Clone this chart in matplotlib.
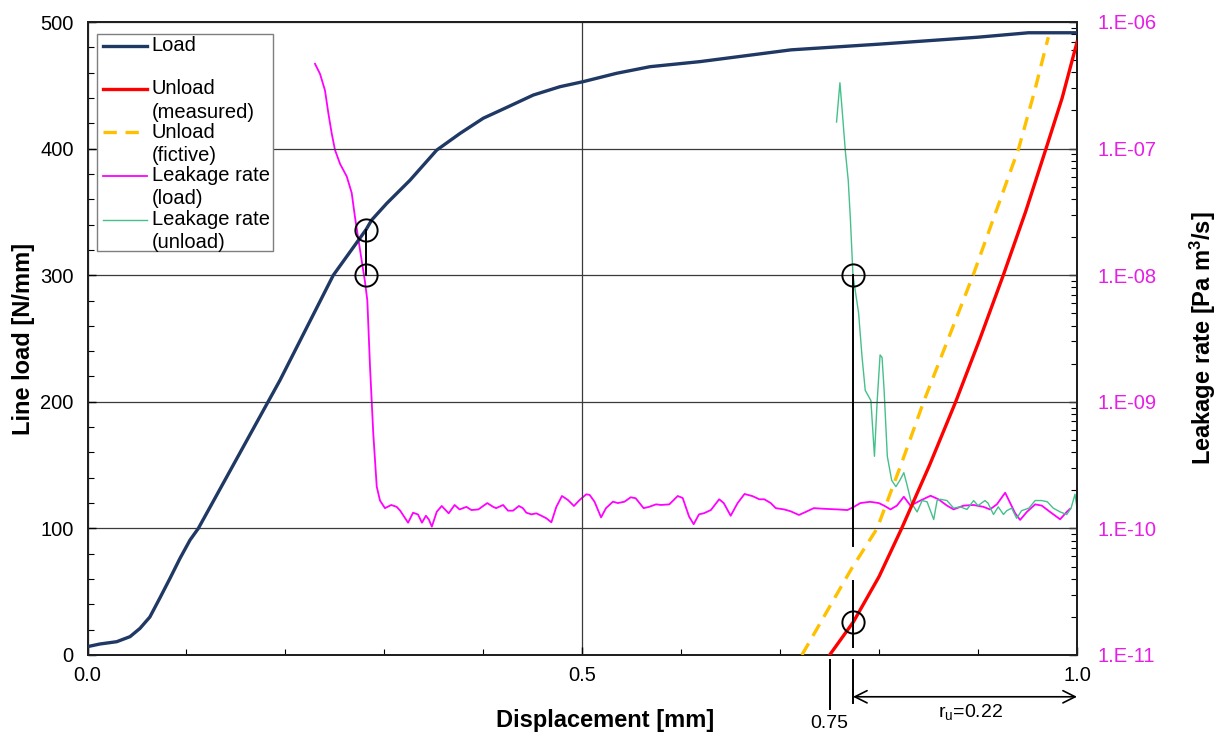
import numpy as np
import matplotlib
matplotlib.use("Agg")
import matplotlib.pyplot as plt
from matplotlib.ticker import FixedLocator, MultipleLocator, FuncFormatter, LogLocator, NullFormatter
from matplotlib.lines import Line2D
from matplotlib.patches import Rectangle

plt.rcParams['font.family'] = ['Liberation Sans', 'DejaVu Sans']
plt.rcParams['mathtext.default'] = 'regular'

# ---------------- data ----------------
load_x = [0.0, 0.0126, 0.0295, 0.043, 0.053, 0.063, 0.073, 0.0834, 0.0935, 0.1036, 0.112, 0.124,
          0.1825, 0.1945, 0.2484, 0.2815, 0.2872, 0.3024, 0.3259, 0.3529, 0.3765, 0.400,
          0.4236, 0.4505, 0.4775, 0.5005, 0.5348, 0.5685, 0.619, 0.711, 0.800, 0.900, 0.951, 1.0]
load_y = [6.6, 8.7, 10.5, 14.5, 21, 30, 44.8, 60.6, 76.4, 90.8, 100, 117,
          200, 217, 300, 336, 343.6, 356.7, 375, 398.8, 412, 424,
          432.5, 442.3, 448.9, 452.8, 459.5, 464.7, 468.7, 478, 482.5, 488, 491.5, 491.5]

unload_meas_x = [0.750, 0.7739, 0.800, 0.8228, 0.851, 0.8774, 0.902, 0.9255, 0.948, 0.9687, 0.985, 1.0]
unload_meas_y = [0, 26, 62, 100, 150, 200, 250, 300, 350, 400, 440, 484]

unload_fict_x = [0.722, 0.7477, 0.772, 0.798, 0.822, 0.845, 0.870, 0.895, 0.918, 0.941, 0.957, 0.971]
unload_fict_y = [0, 35, 68, 100, 150, 200, 250, 300, 350, 400, 445, 488]

# leakage rate during loading: displacement [mm] and log10(leakage rate [Pa m3/s])
leak_load_x = [0.2299, 0.235, 0.240, 0.2434, 0.2468, 0.2501, 0.2552, 0.262, 0.267, 0.2703,
               0.2764, 0.2804, 0.2828, 0.2855, 0.2888, 0.2923, 0.2956, 0.3006,
               0.307, 0.3125, 0.316, 0.324, 0.329, 0.334, 0.338, 0.342, 0.345, 0.348, 0.353,
               0.358, 0.365, 0.371, 0.376, 0.383, 0.388, 0.395, 0.404, 0.410, 0.413, 0.420,
               0.425, 0.430, 0.436, 0.440, 0.4435, 0.4486, 0.4536, 0.4587, 0.4637, 0.4688,
               0.4738, 0.4795, 0.4856, 0.4916, 0.4973, 0.504, 0.5074, 0.5124, 0.519, 0.524,
               0.531, 0.536, 0.5427, 0.549, 0.554, 0.562, 0.5675, 0.5746, 0.5796, 0.588,
               0.5965, 0.6015, 0.608, 0.6126, 0.618, 0.623, 0.630, 0.6384, 0.643, 0.650,
               0.657, 0.664, 0.672, 0.679, 0.684, 0.6905, 0.6956, 0.704, 0.7107, 0.719,
               0.7258, 0.734, 0.744, 0.7577, 0.768, 0.7745, 0.781, 0.791, 0.7997, 0.805,
               0.8115, 0.818, 0.825, 0.8317, 0.8417, 0.852, 0.860, 0.8686, 0.8753, 0.8854,
               0.8955, 0.9055, 0.912, 0.919, 0.9274, 0.9325, 0.9375, 0.9425, 0.9493, 0.9577,
               0.9644, 0.9728, 0.9829, 0.9896, 0.993]
leak_load_log10 = [-6.33, -6.41, -6.54, -6.72, -6.88, -7.01, -7.12, -7.22, -7.35, -7.54,
                   -7.85, -8.05, -8.20, -8.72, -9.25, -9.67, -9.78, -9.84,
                   -9.815, -9.83, -9.86, -9.955, -9.876, -9.89, -9.955, -9.90, -9.93, -9.986, -9.868,
                   -9.823, -9.881, -9.815, -9.85, -9.83, -9.855, -9.85, -9.80, -9.83, -9.84, -9.815,
                   -9.86, -9.86, -9.823, -9.84, -9.876, -9.889, -9.881, -9.90, -9.92, -9.952,
                   -9.83, -9.744, -9.776, -9.823, -9.776, -9.731, -9.735, -9.789, -9.913, -9.84,
                   -9.789, -9.80, -9.789, -9.754, -9.762, -9.84, -9.83, -9.81, -9.815, -9.81,
                   -9.744, -9.76, -9.907, -9.967, -9.889, -9.88, -9.855, -9.77, -9.80, -9.90,
                   -9.80, -9.728, -9.745, -9.77, -9.77, -9.80, -9.84, -9.85, -9.865, -9.894,
                   -9.87, -9.84, -9.845, -9.85, -9.855, -9.83, -9.80, -9.79, -9.80, -9.82,
                   -9.85, -9.82, -9.75, -9.82, -9.78, -9.742, -9.77, -9.82, -9.85, -9.82,
                   -9.815, -9.83, -9.85, -9.81, -9.718, -9.80, -9.88, -9.933, -9.87, -9.81,
                   -9.82, -9.87, -9.928, -9.87, -9.845]

# leakage rate during unloading
leak_unload_x = [0.757, 0.7604, 0.7627, 0.766, 0.7688, 0.771, 0.7736, 0.7793, 0.7827, 0.786,
                 0.7917, 0.7953, 0.798, 0.801, 0.803, 0.805, 0.8083, 0.8127, 0.817, 0.821,
                 0.825, 0.828, 0.8327, 0.8384, 0.8435, 0.8485, 0.8552, 0.8586, 0.862, 0.8686,
                 0.8753, 0.882, 0.8888, 0.8955, 0.900, 0.907, 0.910, 0.9156, 0.9204, 0.9257,
                 0.929, 0.934, 0.939, 0.944, 0.9514, 0.9577, 0.9644, 0.970, 0.976, 0.983,
                 0.9896, 0.994, 0.998, 1.0]
leak_unload_log10 = [-6.79, -6.48, -6.70, -7.03, -7.25, -7.56, -8.00, -8.30, -8.64, -8.91,
                     -8.99, -9.43, -9.00, -8.63, -8.65, -8.90, -9.43, -9.62, -9.67, -9.62,
                     -9.56, -9.65, -9.80, -9.87, -9.78, -9.79, -9.93, -9.78, -9.77, -9.78,
                     -9.84, -9.83, -9.85, -9.78, -9.82, -9.78, -9.80, -9.89, -9.83, -9.89,
                     -9.86, -9.84, -9.92, -9.86, -9.84, -9.78, -9.78, -9.79, -9.84, -9.87,
                     -9.89, -9.84, -9.73, -9.84]

# marked points (displacement, line load)
mark_x = [0.2815, 0.2815, 0.7736, 0.7736]
mark_y = [336, 300, 300, 26]

x_ticks = [0.0, 0.5, 1.0]
x_ticklabels = ['0.0', '0.5', '1.0']
y_ticks = [0, 100, 200, 300, 400, 500]
leak_ticks = [1e-11, 1e-10, 1e-9, 1e-8, 1e-7, 1e-6]

legend_rows = [("Load", None), ("Unload", "(measured)"), ("Unload", "(fictive)"),
               ("Leakage rate", "(load)"), ("Leakage rate", "(unload)")]

# ---------------- styling ----------------
C_LOAD = '#1f3864'
C_MEAS = '#ff0000'
C_FICT = '#ffc000'
C_LEAK_L = '#ff00ff'
C_LEAK_U = '#45c08a'
C_LEAKTXT = '#e61ee6'
FS_TICK = 14.5
FS_LAB = 17

fig = plt.figure(figsize=(12.18, 7.36), dpi=100)
ax = fig.add_axes([87.5 / 1218, 81 / 736, 989.5 / 1218, 633 / 736])
ax2 = ax.twinx()
ax.set_zorder(ax2.get_zorder() + 1)
ax.patch.set_visible(False)

# leakage curves (right axis)
ax2.set_yscale('log')
ax2.plot(leak_load_x, 10.0 ** np.array(leak_load_log10), color=C_LEAK_L, lw=1.3)
ax2.plot(leak_unload_x, 10.0 ** np.array(leak_unload_log10), color=C_LEAK_U, lw=1.0)
ax2.set_ylim(1e-11, 1e-6)
ax2.yaxis.set_major_locator(FixedLocator(leak_ticks))
ax2.yaxis.set_major_formatter(FuncFormatter(lambda v, p: "1.E-%02d" % int(round(-np.log10(v)))))
ax2.yaxis.set_minor_locator(LogLocator(base=10, subs=np.arange(2, 10), numticks=50))
ax2.yaxis.set_minor_formatter(NullFormatter())
ax2.tick_params(axis='y', which='major', direction='in', length=6, width=1, labelsize=FS_TICK,
                labelcolor=C_LEAKTXT, pad=15)
ax2.tick_params(axis='y', which='minor', direction='in', length=4, width=0.8)
ax2.set_ylabel("Leakage rate [Pa m$^3$/s]", fontsize=FS_LAB, fontweight='bold', labelpad=22)

# load curves (left axis)
ax.plot(load_x, load_y, color=C_LOAD, lw=2.4, solid_capstyle='round', zorder=3)
ax.plot(unload_meas_x, unload_meas_y, color=C_MEAS, lw=2.4, zorder=4)
ax.plot(unload_fict_x, unload_fict_y, color=C_FICT, lw=2.4, dashes=(4, 2.6), zorder=4)

ax.plot(mark_x, mark_y, linestyle='none', marker='o', markersize=16, markerfacecolor='none',
        markeredgecolor='black', markeredgewidth=1.4, zorder=5)
ax.plot([mark_x[0], mark_x[1]], [mark_y[0], mark_y[1]], color='black', lw=1.4, zorder=5)
ax.plot([mark_x[2], mark_x[2]], [mark_y[2], 86], color='black', lw=1.4, zorder=5)
ax.plot([mark_x[3], mark_x[3]], [58.5, 6], color='black', lw=1.4, zorder=5)
ax.plot([mark_x[3], mark_x[3]], [-4, -38], color='black', lw=1.4, clip_on=False, zorder=5)
ax.plot([unload_meas_x[0], unload_meas_x[0]], [-4, -43], color='black', lw=1.4, clip_on=False, zorder=5)
ax.text(unload_meas_x[0], -54.5, "0.75", ha='center', va='center', fontsize=14)
ax.annotate('', xy=(1.0, -33), xytext=(mark_x[3], -33),
            arrowprops=dict(arrowstyle='<->', color='black', lw=1.2, mutation_scale=22,
                            shrinkA=0, shrinkB=0), annotation_clip=False)
ax.text(0.892, -45, "r$_{u}$=0.22", ha='center', va='center', fontsize=14)

ax.set_xlim(0, 1)
ax.set_ylim(0, 500)
ax.xaxis.set_major_locator(FixedLocator(x_ticks))
ax.set_xticklabels(x_ticklabels)
ax.xaxis.set_minor_locator(MultipleLocator(0.1))
ax.yaxis.set_major_locator(FixedLocator(y_ticks))
ax.yaxis.set_minor_locator(MultipleLocator(20))
ax.tick_params(axis='both', which='major', direction='in', length=6, width=1, labelsize=FS_TICK)
ax.tick_params(axis='both', which='minor', direction='in', length=4, width=0.8)
ax.tick_params(axis='y', pad=10)
ax.tick_params(axis='x', pad=8)
ax.grid(True, which='major', color='#3a3a3a', lw=0.9)
ax.set_xlabel("Displacement [mm]", fontsize=FS_LAB, fontweight='bold', labelpad=17, x=0.523)
ax.set_ylabel("Line load [N/mm]", fontsize=FS_LAB, fontweight='bold', labelpad=4)

for a in (ax, ax2):
    for s in a.spines.values():
        s.set_linewidth(1.4)
        s.set_color('#202020')

# ---------------- manual legend ----------------
W, H = 989.5, 633.0
def ax_x(px):
    return (px - 87.5) / W
def ax_y(py):
    return (655 - py) / H

ax.add_patch(Rectangle((ax_x(97), ax_y(251)), ax_x(273) - ax_x(97), ax_y(34) - ax_y(251),
                       transform=ax.transAxes, facecolor='white', edgecolor='#7f7f7f', lw=1.0,
                       zorder=10))
row_py = [45.5, 89, 132, 175.5, 219.5]
second_py = [None, 112, 155.5, 198.5, 242]
styles = [dict(color=C_LOAD, lw=2.4), dict(color=C_MEAS, lw=2.4),
          dict(color=C_FICT, lw=2.4, dashes=(4, 2.6)), dict(color=C_LEAK_L, lw=1.3),
          dict(color=C_LEAK_U, lw=1.0)]
for (lab1, lab2), py1, py2, st in zip(legend_rows, row_py, second_py, styles):
    ax.add_line(Line2D([ax_x(103), ax_x(147)], [ax_y(py1), ax_y(py1)], transform=ax.transAxes,
                       zorder=11, **st))
    ax.text(ax_x(151.5), ax_y(py1), lab1, transform=ax.transAxes, ha='left', va='center',
            fontsize=14.5, zorder=11)
    if lab2:
        ax.text(ax_x(151.5), ax_y(py2), lab2, transform=ax.transAxes, ha='left', va='center',
                fontsize=14.5, zorder=11)

fig.savefig("out.png", dpi=100)
